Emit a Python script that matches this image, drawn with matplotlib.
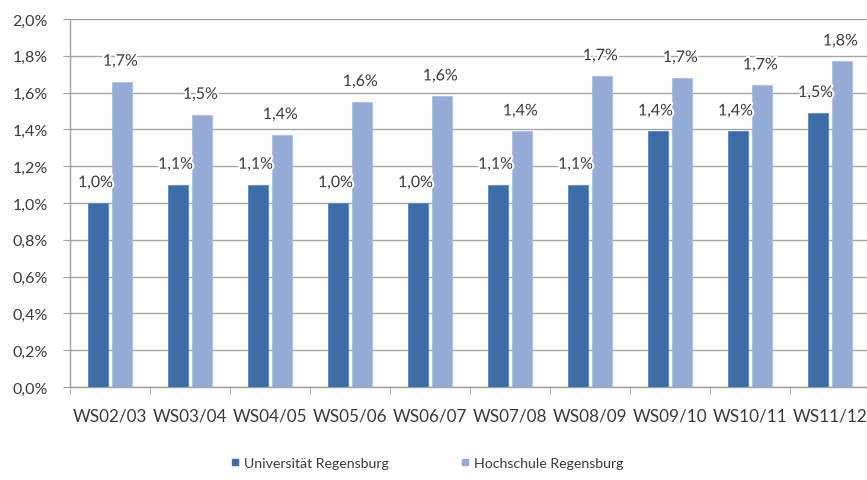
import matplotlib.pyplot as plt
import matplotlib.patheffects as pe
from matplotlib.lines import Line2D
import numpy as np

categories = ["WS02/03", "WS03/04", "WS04/05", "WS05/06", "WS06/07",
              "WS07/08", "WS08/09", "WS09/10", "WS10/11", "WS11/12"]
uni = [1.00, 1.10, 1.10, 1.00, 1.00, 1.10, 1.10, 1.39, 1.39, 1.49]
hs = [1.66, 1.48, 1.37, 1.55, 1.58, 1.39, 1.69, 1.68, 1.64, 1.77]
uni_labels = ["1,0%", "1,1%", "1,1%", "1,0%", "1,0%", "1,1%", "1,1%", "1,4%", "1,4%", "1,5%"]
hs_labels = ["1,7%", "1,5%", "1,4%", "1,6%", "1,6%", "1,4%", "1,7%", "1,7%", "1,7%", "1,8%"]
yticks = [0.0, 0.2, 0.4, 0.6, 0.8, 1.0, 1.2, 1.4, 1.6, 1.8, 2.0]
ytick_labels = ["0,0%", "0,2%", "0,4%", "0,6%", "0,8%", "1,0%", "1,2%", "1,4%", "1,6%", "1,8%", "2,0%"]
series_names = ["Universität Regensburg", "Hochschule Regensburg"]

dark = "#3d6cab"
light = "#93abd6"
textc = "#3a3a3a"
plt.rcParams['font.family'] = ['Lato', 'DejaVu Sans']

W, H = 867, 481
fig = plt.figure(figsize=(W / 100, H / 100), dpi=100)
left, right, top, bottom = 70, 870, 20, 388
ax = fig.add_axes([left / W, 1 - bottom / H, (right - left) / W, (bottom - top) / H])

x = np.arange(len(categories))
bw = 0.25
off = 0.15
ax.bar(x - off, uni, width=bw, color=dark, zorder=3, edgecolor="#5a86c0", linewidth=0.6)
ax.bar(x + off, hs, width=bw, color=light, zorder=3, edgecolor="#a9bde0", linewidth=0.6)

halo = [pe.withStroke(linewidth=3, foreground="white")]
fs = 11.5
for i in range(len(categories)):
    ax.text(x[i] - off - 0.03, uni[i] + 0.07, uni_labels[i], ha="center", va="bottom",
            fontsize=fs, color=textc, zorder=5, path_effects=halo)
    ax.text(x[i] + off - 0.02, hs[i] + 0.07, hs_labels[i], ha="center", va="bottom",
            fontsize=fs, color=textc, zorder=5, path_effects=halo)

ax.set_xlim(-0.5, len(categories) - 0.5)
ax.set_ylim(0, 2.0)
ax.set_yticks(yticks)
ax.set_yticklabels(ytick_labels, fontsize=fs, color=textc)
ax.set_xticks(x)
ax.set_xticklabels(categories, fontsize=12.3, color=textc)
ax.set_xticks(np.arange(len(categories) + 1) - 0.5, minor=True)
ax.tick_params(axis="x", which="major", length=0, pad=15)
ax.tick_params(axis="x", which="minor", length=5, color="#a0a0a0", direction="out")
ax.tick_params(axis="y", length=5, color="#a0a0a0", direction="out", pad=11)

ax.grid(axis="y", color="#a6a6a6", linewidth=1.0, zorder=0)
for s in ["top", "right"]:
    ax.spines[s].set_visible(False)
for s in ["left", "bottom"]:
    ax.spines[s].set_color("#a0a0a0")
    ax.spines[s].set_linewidth(1.0)

handles = [Line2D([], [], marker="s", linestyle="none", markersize=5, color=dark),
           Line2D([], [], marker="s", linestyle="none", markersize=5, color=light)]
fig.legend(handles, series_names, loc="center", bbox_to_anchor=(425 / W, 1 - 464 / H),
           ncol=2, frameon=False, fontsize=10.2, handletextpad=0.0, columnspacing=4.8,
           handlelength=1.2, labelcolor=textc)

fig.savefig("out.png", dpi=100)
